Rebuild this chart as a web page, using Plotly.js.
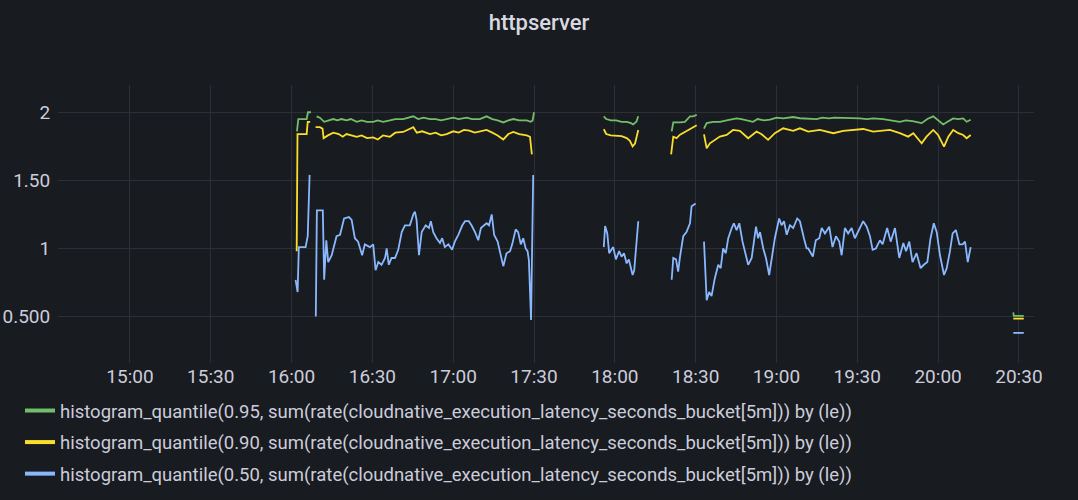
<!DOCTYPE html>
<html>
<head>
<meta charset="utf-8">
<script src="https://cdn.plot.ly/plotly-3.0.1.min.js"></script>
<style>
  html, body { margin: 0; padding: 0; background: #181b1f; }
  #chart { width: 1078px; height: 500px; }
</style>
</head>
<body>
<div id="chart"></div>
<script>
// Time values are minutes after 15:00 on the chart's day.
const seriesNames = [
  "histogram_quantile(0.95, sum(rate(cloudnative_execution_latency_seconds_bucket[5m])) by (le))",
  "histogram_quantile(0.90, sum(rate(cloudnative_execution_latency_seconds_bucket[5m])) by (le))",
  "histogram_quantile(0.50, sum(rate(cloudnative_execution_latency_seconds_bucket[5m])) by (le))"
];

const p95Minutes = [
  62.0, 62.5, 64.0, 65.6, 66.1, 67.2, 68.0,
  69.3, 70.5, 72.1, 73.5, 75.5, 77.0, 78.5, 80.4, 82.0, 84.2, 86.0, 88.0, 90.3, 92.0, 94.0, 96.5, 98.5,
  101.4, 103.0, 105.2, 107.0, 109.0, 111.4, 113.5, 115.5, 117.6, 120.0, 122.0, 124.0, 125.0, 127.0, 129.9,
  132.4, 134.5, 136.5, 138.6, 140.5, 142.3, 144.5, 147.3, 148.8, 149.5, 150.0, 151.0,
  175.9, 176.8, 178.5, 180.5, 182.5, 184.5, 186.0, 186.8, 188.0, 188.7, 190.0,
  201.1, 201.7, 204.2, 206.0, 207.9, 209.0, 210.4, 211.5,
  213.1, 214.1, 216.5, 219.0, 221.5, 223.5, 225.2, 227.0, 228.9, 231.3, 233.0, 235.5, 237.6, 240.1, 242.5,
  244.0, 246.2, 248.7, 251.2, 253.0, 254.9, 257.0, 259.5, 261.5, 263.6, 266.0, 268.5, 271.0, 273.5, 276.0,
  279.6, 282.5, 285.8, 288.0, 290.5, 293.9, 296.0, 298.2, 300.0, 301.9, 303.5, 305.6, 307.5, 309.3, 310.6,
  312.1, 313.0,
  327.9, 328.1, 331.8
];
const p95Values = [
  1.86, 1.95, 1.95, 1.95, 2.00, 2.00, null,
  1.97, 1.96, 1.93, 1.94, 1.95, 1.94, 1.95, 1.94, 1.95, 1.93, 1.94, 1.93, 1.93, 1.94, 1.93, 1.94, 1.95,
  1.95, 1.96, 1.97, 1.95, 1.96, 1.95, 1.95, 1.94, 1.95, 1.96, 1.95, 1.96, 1.96, 1.95, 1.95,
  1.97, 1.95, 1.94, 1.925, 1.94, 1.95, 1.94, 1.94, 1.93, 1.94, 2.00, null,
  1.97, 1.95, 1.94, 1.94, 1.93, 1.93, 1.92, 1.91, 1.93, 1.97, null,
  1.86, 1.925, 1.925, 1.93, 1.97, 1.97, 1.98, null,
  1.88, 1.92, 1.93, 1.93, 1.94, 1.95, 1.955, 1.95, 1.94, 1.93, 1.95, 1.94, 1.945, 1.96, 1.955,
  1.96, 1.965, 1.956, 1.955, 1.95, 1.95, 1.96, 1.955, 1.96, 1.96, 1.955, 1.96, 1.955, 1.95, 1.955,
  1.95, 1.94, 1.93, 1.94, 1.935, 1.92, 1.95, 1.97, 1.94, 1.91, 1.93, 1.955, 1.95, 1.955, 1.93,
  1.945, null,
  0.53, 0.505, 0.505
];

const p90Minutes = [
  61.9, 62.2, 64.0, 65.6, 66.0, 66.9, 67.5,
  68.9, 70.5, 71.5, 71.9, 73.5, 75.5, 77.5, 79.0, 80.4, 82.5, 84.2, 86.0, 88.0, 90.3, 92.0, 94.0, 96.5,
  98.5, 101.4, 103.0, 105.2, 106.5, 108.5, 111.4, 113.5, 115.5, 117.6, 120.0, 122.0, 124.0, 126.0, 128.0,
  129.9, 132.4, 134.5, 136.5, 138.6, 140.5, 142.3, 144.5, 147.3, 148.5, 149.2, 150.5,
  175.9, 176.8, 178.5, 180.5, 182.5, 184.4, 185.6, 186.6, 187.5, 188.7, 190.0,
  200.9, 201.7, 202.9, 204.2, 206.0, 208.5, 210.4, 211.5,
  213.1, 214.1, 215.3, 217.2, 219.0, 221.5, 223.9, 226.4, 229.5, 232.6, 234.5, 236.9, 239.4, 242.5, 246.2,
  248.7, 251.8, 256.1, 261.1, 264.8, 268.5, 272.2, 275.9, 282.1, 285.8, 288.9, 290.8, 293.9, 295.7, 298.2,
  300.0, 302.2, 303.8, 305.6, 307.5, 309.3, 310.6, 312.1, 313.0,
  327.9, 331.8
];
const p90Values = [
  0.98, 1.84, 1.84, 1.84, 1.93, 1.93, null,
  1.89, 1.89, 1.88, 1.81, 1.83, 1.85, 1.84, 1.82, 1.84, 1.83, 1.82, 1.83, 1.81, 1.815, 1.80, 1.83, 1.82,
  1.85, 1.855, 1.87, 1.89, 1.85, 1.86, 1.84, 1.85, 1.83, 1.84, 1.86, 1.85, 1.87, 1.865, 1.85,
  1.86, 1.87, 1.85, 1.83, 1.80, 1.84, 1.855, 1.84, 1.83, 1.82, 1.69, null,
  1.875, 1.84, 1.83, 1.83, 1.825, 1.81, 1.79, 1.75, 1.77, 1.87, null,
  1.69, 1.82, 1.81, 1.835, 1.855, 1.88, 1.905, null,
  1.838, 1.735, 1.772, 1.797, 1.821, 1.833, 1.870, 1.863, 1.809, 1.858, 1.838, 1.797, 1.846, 1.882, 1.863,
  1.882, 1.858, 1.870, 1.846, 1.863, 1.870, 1.877, 1.858, 1.870, 1.846, 1.821, 1.846, 1.772, 1.821, 1.870,
  1.833, 1.748, 1.821, 1.870, 1.846, 1.833, 1.809, 1.833, null,
  0.485, 0.485
];

const p50Minutes = [
  61.5, 62.25, 62.7, 65.2, 66.0, 66.7, 67.5,
  69.0, 69.4, 71.6, 72.1, 72.9, 73.6, 74.9, 76.7, 78.0, 79.5, 81.3, 82.3, 83.5, 84.7, 86.2, 87.2, 89.1,
  90.3, 91.2, 92.2, 93.4, 94.7, 95.3, 96.1, 97.1, 98.4, 99.6, 100.9, 102.1, 103.9, 105.2, 105.8, 106.4,
  107.3, 108.3, 109.8, 111.0, 111.7, 112.6, 113.8, 115.1, 115.9, 116.9, 118.2, 119.6, 120.6, 121.9, 123.4,
  124.4, 125.8, 126.8, 128.1, 129.3, 130.3, 131.5, 132.4, 133.3, 134.3, 135.2, 136.5, 137.3, 138.6, 139.8,
  141.1, 141.9, 143.2, 144.1, 145.1, 146.0, 146.9, 147.6, 148.1, 148.9, 149.7, 151.0,
  175.9, 176.4, 177.2, 177.9, 179.4, 180.4, 181.6, 182.5, 183.4, 184.4, 185.2, 186.6, 187.2, 188.7, 190.0,
  201.1, 201.7, 202.7, 203.5, 204.2, 205.4, 206.6, 207.9, 208.5, 209.7, 210.0, 211.5,
  213.1, 214.1, 215.0, 215.9, 217.1, 218.4, 219.3, 220.2, 221.2, 222.1, 223.4, 224.2, 225.2, 226.2, 227.4,
  228.7, 229.5, 230.8, 232.4, 233.2, 233.9, 235.1, 236.1, 237.3, 238.2, 239.4, 241.0, 241.9, 242.8, 243.8,
  245.0, 246.2, 247.7, 248.7, 250.2, 251.2, 251.8, 253.5, 254.6, 255.9, 256.8, 258.0, 259.6, 260.8, 262.1,
  263.3, 264.2, 265.4, 266.6, 267.9, 269.1, 270.7, 272.2, 273.5, 274.7, 275.7, 276.9, 278.4, 279.4, 281.1,
  282.4, 284.0, 285.6, 287.1, 288.1, 289.3, 290.5, 292.0, 293.5, 294.7, 296.0, 297.2, 298.4, 299.5, 300.7,
  302.2, 303.2, 304.4, 305.4, 306.6, 307.9, 309.1, 310.0, 311.0, 312.1, 313.0,
  327.9, 331.8
];
const p50Values = [
  0.77, 0.68, 1.01, 1.01, 1.09, 1.54, null,
  0.50, 1.28, 1.28, 0.77, 1.06, 0.90, 0.95, 1.09, 1.10, 1.22, 1.23, 1.21, 1.075, 1.05, 0.95, 1.03, 1.01,
  1.03, 0.84, 0.90, 0.88, 0.93, 1.00, 0.88, 0.93, 0.93, 0.99, 1.12, 1.17, 1.17, 1.25, 1.27, 1.21,
  0.95, 1.12, 1.17, 1.15, 1.20, 1.12, 1.075, 1.04, 1.075, 1.01, 1.03, 0.99, 1.05, 1.10, 1.17,
  1.20, 1.20, 1.17, 1.12, 1.06, 1.15, 1.17, 1.185, 1.17, 1.25, 1.10, 1.05, 0.98, 0.87, 0.965,
  0.98, 1.03, 1.14, 1.12, 1.03, 1.075, 1.00, 0.98, 0.915, 0.475, 1.54, null,
  1.01, 1.165, 1.11, 0.965, 1.01, 0.92, 0.98, 0.94, 0.965, 0.89, 0.92, 0.805, 0.84, 1.20, null,
  0.77, 0.93, 0.92, 0.83, 0.94, 1.09, 1.12, 1.185, 1.31, 1.325, 1.33, null,
  1.05, 0.62, 0.68, 0.65, 0.78, 0.88, 0.855, 1.00, 0.965, 1.075, 1.15, 1.185, 1.135, 1.185, 1.05,
  0.93, 0.88, 0.93, 1.16, 1.075, 1.12, 1.00, 0.93, 0.805, 0.93, 1.075, 1.22, 1.17, 1.20, 1.10,
  1.17, 1.15, 1.22, 1.20, 1.075, 1.00, 1.00, 0.94, 1.06, 1.075, 1.15, 1.11, 1.16, 1.01, 1.09,
  1.05, 0.95, 1.15, 1.11, 1.15, 1.075, 1.135, 1.20, 1.16, 1.09, 0.99, 1.00, 1.06, 1.03, 1.15,
  1.05, 1.15, 0.93, 1.04, 0.98, 1.05, 0.90, 0.965, 0.855, 0.88, 0.90, 1.075, 1.185, 1.12, 0.95,
  0.805, 0.855, 0.98, 1.11, 1.135, 1.03, 1.03, 1.05, 0.90, 1.01, null,
  0.38, 0.38
];

const yTickValues = [0.5, 1, 1.5, 2];
const yTickLabels = ["0.500", "1", "1.50", "2"];
const seriesColors = ["#73BF69", "#FADE2A", "#8AB8FF"];

function toTs(mins) {
  const s = 15 * 3600 + Math.round(mins * 60);
  const h = Math.floor(s / 3600);
  const m = Math.floor((s % 3600) / 60);
  const sec = s % 60;
  const p = n => String(n).padStart(2, "0");
  return "2022-06-01 " + p(h) + ":" + p(m) + ":" + p(sec);
}

const seriesMinutes = [p95Minutes, p90Minutes, p50Minutes];
const seriesValues = [p95Values, p90Values, p50Values];

const dataTraces = seriesNames.map((name, i) => ({
  type: "scatter",
  mode: "lines",
  name: name,
  showlegend: false,
  x: seriesMinutes[i].map(toTs),
  y: seriesValues[i],
  connectgaps: false,
  line: { color: seriesColors[i], width: 1.8 },
  hoverinfo: "skip"
}));
const legendTraces = seriesNames.map((name, i) => ({
  type: "scatter",
  mode: "lines",
  name: name,
  legendgroup: "g" + i,
  showlegend: true,
  x: [null],
  y: [null],
  line: { color: seriesColors[i], width: 4 },
  hoverinfo: "skip"
}));

const textColor = "#ccccdc";
const gridColor = "#2c2f35";
const fontFam = "Roboto, 'Noto Sans', sans-serif";

const layout = {
  width: 1078,
  height: 500,
  paper_bgcolor: "#181b1f",
  plot_bgcolor: "#181b1f",
  margin: { l: 58, r: 44, t: 85, b: 137, autoexpand: false },
  font: { family: fontFam, color: textColor, size: 18.5 },
  title: {
    text: "httpserver",
    font: { family: fontFam, size: 22, color: "#d8d9e0", weight: 500 },
    x: 0.5, xanchor: "center",
    xref: "container",
    y: 1 - 22 / 500, yanchor: "middle", yref: "container"
  },
  xaxis: {
    type: "date",
    range: [toTs(-26.7), toTs(335.6)],
    tick0: toTs(0),
    dtick: 30 * 60 * 1000,
    tickformat: "%H:%M",
    tickangle: 0,
    showgrid: true,
    gridcolor: gridColor,
    gridwidth: 1,
    zeroline: false,
    showline: false,
    ticks: "",
    tickfont: { family: fontFam, size: 19, color: textColor }
  },
  yaxis: {
    range: [0.159, 2.2],
    tickvals: yTickValues,
    ticktext: yTickLabels,
    showgrid: true,
    gridcolor: gridColor,
    gridwidth: 1,
    zeroline: false,
    showline: false,
    ticks: "outside",
    ticklen: 3,
    tickcolor: "rgba(0,0,0,0)",
    tickfont: { family: fontFam, size: 19, color: textColor }
  },
  showlegend: true,
  legend: {
    orientation: "v",
    xref: "container", yref: "container",
    x: 20 / 1078, xanchor: "left",
    y: 1 - 392 / 500, yanchor: "top",
    bgcolor: "rgba(0,0,0,0)",
    borderwidth: 0,
    tracegroupgap: 4.5,
    font: { family: fontFam, size: 18.5, color: textColor },
    itemwidth: 30
  }
};

Plotly.newPlot("chart", dataTraces.concat(legendTraces), layout, { displayModeBar: false, staticPlot: true });
</script>
</body>
</html>
